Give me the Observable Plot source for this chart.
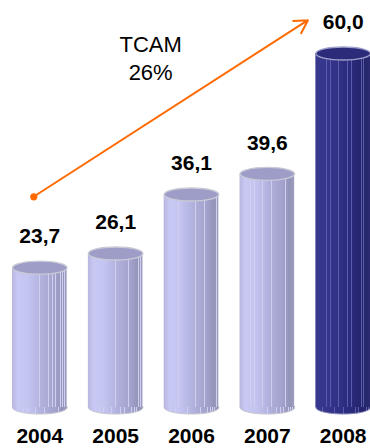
<!DOCTYPE html>
<html>
<head>
<meta charset="utf-8">
<script src="https://cdn.jsdelivr.net/npm/d3@7"></script>
<script src="https://cdn.jsdelivr.net/npm/@observablehq/plot@0.6"></script>
<style>
  html, body { margin: 0; padding: 0; background: #fff; }
  #chart { width: 370px; height: 448px; }
</style>
</head>
<body>
<div id="chart"></div>
<script>
// Yearly values (comma decimal labels)
const years = ["2004", "2005", "2006", "2007", "2008"];
const values = [23.7, 26.1, 36.1, 39.6, 60.0];
const highlightYear = "2008";
// Compound annual growth rate shown with the trend arrow
const tcamLabel = "TCAM";
const tcamPct = 26;
// Trend arrow runs from above the first bar to above the last bar (y in data units)
const trendFrom = { year: "2004", value: 36.4 };
const trendTo = { year: "2008", value: 69.5 };

const data = years.map((year, i) => ({ year, value: values[i], hi: year === highlightYear }));
const fmt = v => v.toFixed(1).replace(".", ",");

const W = 370, H = 448;
const xRange = [12, 370];
const band = d3.scaleBand(years, xRange).paddingInner(0.28).paddingOuter(0);
const rx = band.bandwidth() / 2, ry = 6.5;

// Ellipse symbol for the cylinder caps
const K = 0.5523;
const ellipse = {
  draw(ctx) {
    ctx.moveTo(rx, 0);
    ctx.bezierCurveTo(rx, ry * K, rx * K, ry, 0, ry);
    ctx.bezierCurveTo(-rx * K, ry, -rx, ry * K, -rx, 0);
    ctx.bezierCurveTo(-rx, -ry * K, -rx * K, -ry, 0, -ry);
    ctx.bezierCurveTo(rx * K, -ry, rx, -ry * K, rx, 0);
    ctx.closePath();
  }
};

const light = data.filter(d => !d.hi);
const dark = data.filter(d => d.hi);

const chart = Plot.plot({
  width: W,
  height: H,
  margin: 0,
  style: { fontFamily: "'Liberation Sans', Arial, sans-serif", background: "#fff", overflow: "visible" },
  x: { domain: years, range: xRange, paddingInner: 0.28, paddingOuter: 0, round: false, axis: null },
  y: { domain: [0, 60], range: [407, 53], axis: null },
  marks: [
    // bottom caps
    Plot.dot(light, { x: "year", y: () => 0, symbol: ellipse, fill: "url(#cylLight)", stroke: "#c4c4d0", strokeWidth: 1 }),
    Plot.dot(dark, { x: "year", y: () => 0, symbol: ellipse, fill: "url(#cylDark)", stroke: "#8a8ab8", strokeWidth: 1 }),
    // cylinder bodies
    Plot.barY(light, { x: "year", y: "value", fill: "url(#cylLight)", insetLeft: 0, insetRight: 0 }),
    Plot.barY(dark, { x: "year", y: "value", fill: "url(#cylDark)", insetLeft: 0, insetRight: 0 }),
    // top caps
    Plot.dot(light, { x: "year", y: "value", symbol: ellipse, fill: "#9d9dc8", stroke: "#cacad6", strokeWidth: 1.3 }),
    Plot.dot(dark, { x: "year", y: "value", symbol: ellipse, fill: "#2b2b7a", stroke: "#a0a0cc", strokeWidth: 1.3 }),
    // value labels
    Plot.text(data, { x: "year", y: "value", text: d => fmt(d.value), dy: -31, fontSize: 21, fontWeight: "bold", fill: "#000" }),
    // year labels
    Plot.text(data, { x: "year", text: "year", frameAnchor: "bottom", dy: -12, lineAnchor: "middle", fontSize: 21, fontWeight: "bold", fill: "#000" }),
    // growth trend
    Plot.arrow([0], {
      x1: () => trendFrom.year, y1: () => trendFrom.value,
      x2: () => trendTo.year, y2: () => trendTo.value,
      stroke: "#ff6a00", strokeWidth: 2, headLength: 11, insetStart: -7, insetEnd: 42
    }),
    Plot.dot([0], { x: () => trendFrom.year, y: () => trendFrom.value - 0.7, dx: -6, r: 3.6, fill: "#ff6a00" }),
    Plot.text([`${tcamLabel}\n${tcamPct}%`], { x: () => "2005", y: () => 59.4, dx: 35, fontSize: 22, lineHeight: 1.3, fill: "#000" })
  ]
});

// Horizontal shading with thin vertical highlights for the cylinders
function addGradient(svg, id, base, stripe, stripes) {
  const interp = d3.scaleLinear(base.map(d => d[0]), base.map(d => d[1])).interpolate(d3.interpolateRgb);
  let stops = base.map(([o, c]) => ({ o, c }));
  const w = 0.009;
  for (const p of stripes) {
    stops.push({ o: p, c: interp(p) }, { o: p, c: stripe }, { o: p + w, c: stripe }, { o: p + w, c: interp(p + w) });
  }
  stops = stops.map((s, i) => ({ ...s, i })).sort((a, b) => a.o - b.o || a.i - b.i);
  const g = svg.append("linearGradient").attr("id", id).attr("x1", 0).attr("x2", 1).attr("y1", 0).attr("y2", 0);
  for (const s of stops) g.append("stop").attr("offset", s.o).attr("stop-color", s.c);
}

const svg = d3.select(chart);
const defs = svg.insert("defs", ":first-child");
addGradient(defs, "cylLight",
  [[0, "#b6b6e0"], [0.1, "#c8c8f4"], [0.3, "#c4c4f0"], [0.55, "#b0b0dc"], [0.78, "#a2a2cc"], [0.92, "#9494ba"], [1, "#9c9cbe"]],
  "#cfcff0",
  [0.2, 0.27, 0.42, 0.5, 0.58, 0.66, 0.74, 0.79, 0.84, 0.88, 0.92, 0.96]);
addGradient(defs, "cylDark",
  [[0, "#38388e"], [0.3, "#333389"], [0.6, "#2c2c7e"], [0.85, "#24246c"], [1, "#2a2a70"]],
  "#5c5cac",
  [0.12, 0.2, 0.27, 0.34, 0.42, 0.5, 0.58, 0.66, 0.72, 0.78, 0.84, 0.88, 0.92, 0.96]);

document.getElementById("chart").append(chart);
</script>
</body>
</html>
